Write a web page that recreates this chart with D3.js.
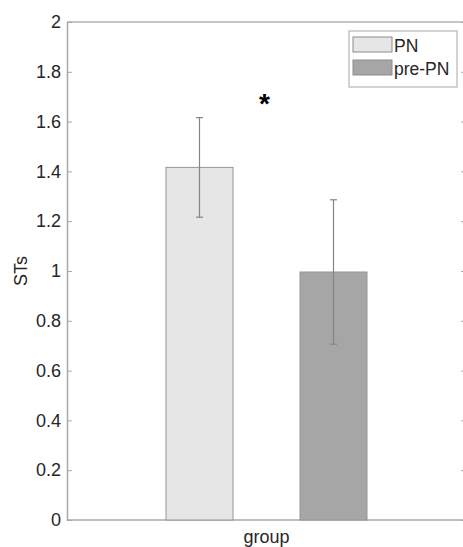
<!DOCTYPE html>
<html>
<head>
<meta charset="utf-8">
<script src="https://cdn.jsdelivr.net/npm/d3@7"></script>
<style>
  body { margin: 0; background: #fff; }
  svg { display: block; font-family: "Liberation Sans", Arial, sans-serif; }
</style>
</head>
<body>
<svg class="chart"></svg>
<script>
// values
var groups = ["group"];
var series = ["PN", "pre-PN"];
var means = [1.416, 0.996];
var errs = [0.2, 0.29];
var colors = ["#e6e6e6", "#a6a6a6"];
var yTicks = [0, 0.2, 0.4, 0.6, 0.8, 1, 1.2, 1.4, 1.6, 1.8, 2];

var width = 463,
    height = 547;
var margin = {top: 22, right: -3, bottom: 27, left: 67};

var svg = d3.select(".chart")
            .attr("width", width)
            .attr("height", height);

var y = d3.scaleLinear().domain([0, 2]).range([height - margin.bottom, margin.top]);
var x0 = d3.scaleBand().domain(groups).range([margin.left, width - margin.right]);
var x1 = d3.scalePoint().domain(series).range([-67, 67]);
var barW = 67;

var axisCol = "#a8a8a8";
var textCol = "#262626";

// box lines
svg.append("line").attr("x1", margin.left).attr("x2", width - margin.right)
   .attr("y1", y(2)).attr("y2", y(2)).attr("stroke", "#8c8c8c").attr("stroke-width", 1);
svg.append("line").attr("x1", margin.left).attr("x2", width - margin.right)
   .attr("y1", y(0)).attr("y2", y(0)).attr("stroke", axisCol).attr("stroke-width", 1.5);

// left axis
var yAxis = svg.append("g")
   .attr("transform", "translate(" + margin.left + ",0)")
   .call(d3.axisLeft(y).tickValues(yTicks).tickSizeInner(-5).tickSizeOuter(0).tickPadding(6)
          .tickFormat(d3.format("")));
yAxis.select(".domain").attr("stroke", axisCol).attr("stroke-width", 1.5);
yAxis.selectAll(".tick line").attr("stroke", axisCol);
yAxis.selectAll("text").attr("fill", textCol).attr("font-size", 18);

// right axis ticks (inward)
var rAxis = svg.append("g")
   .attr("transform", "translate(" + (width - margin.right) + ",0)")
   .call(d3.axisRight(y).tickValues(yTicks).tickSizeInner(-5).tickSizeOuter(0).tickFormat(""));
rAxis.select(".domain").attr("stroke", axisCol);
rAxis.selectAll(".tick line").attr("stroke", axisCol);

// bars
var g = svg.append("g");
series.forEach(function(s, i){
  var cx = x0("group") + x0.bandwidth() / 2 + x1(s);
  g.append("rect")
   .attr("x", cx - barW / 2)
   .attr("y", y(means[i]))
   .attr("width", barW)
   .attr("height", y(0) - y(means[i]))
   .attr("fill", colors[i])
   .attr("stroke", "#969696")
   .attr("stroke-width", 1);
});

// error bars
series.forEach(function(s, i){
  var cx = x0("group") + x0.bandwidth() / 2 + x1(s);
  var eg = g.append("g").attr("stroke", "#858585").attr("stroke-width", 1.2);
  eg.append("line").attr("x1", cx).attr("x2", cx)
    .attr("y1", y(means[i] - errs[i])).attr("y2", y(means[i] + errs[i]));
  [means[i] - errs[i], means[i] + errs[i]].forEach(function(v){
    eg.append("line").attr("x1", cx - 3.5).attr("x2", cx + 3.5)
      .attr("y1", y(v)).attr("y2", y(v));
  });
});

// significance star
svg.append("text")
   .attr("x", x0("group") + x0.bandwidth() / 2 - 2)
   .attr("y", y(1.635))
   .attr("text-anchor", "middle")
   .attr("font-size", 28)
   .attr("font-weight", "bold")
   .attr("fill", "#000")
   .text("*");

// x label
svg.append("text")
   .attr("x", x0("group") + x0.bandwidth() / 2)
   .attr("y", 543)
   .attr("text-anchor", "middle")
   .attr("font-size", 18)
   .attr("fill", textCol)
   .text("group");

// y label
svg.append("text")
   .attr("transform", "translate(27," + y(1.0) + ") rotate(-90)")
   .attr("text-anchor", "middle")
   .attr("font-size", 18)
   .attr("fill", textCol)
   .text("STs");

// legend
var leg = svg.append("g").attr("transform", "translate(349,31)");
leg.append("rect").attr("width", 108).attr("height", 56)
   .attr("fill", "#fff").attr("stroke", "#a8a8a8");
series.forEach(function(s, i){
  leg.append("rect").attr("x", 4).attr("y", 6 + i * 23)
     .attr("width", 39).attr("height", 15)
     .attr("fill", colors[i]).attr("stroke", "#8c8c8c");
  leg.append("text").attr("x", 45).attr("y", 21 + i * 23)
     .attr("font-size", 17.5).attr("fill", textCol).text(s);
});
</script>
</body>
</html>
